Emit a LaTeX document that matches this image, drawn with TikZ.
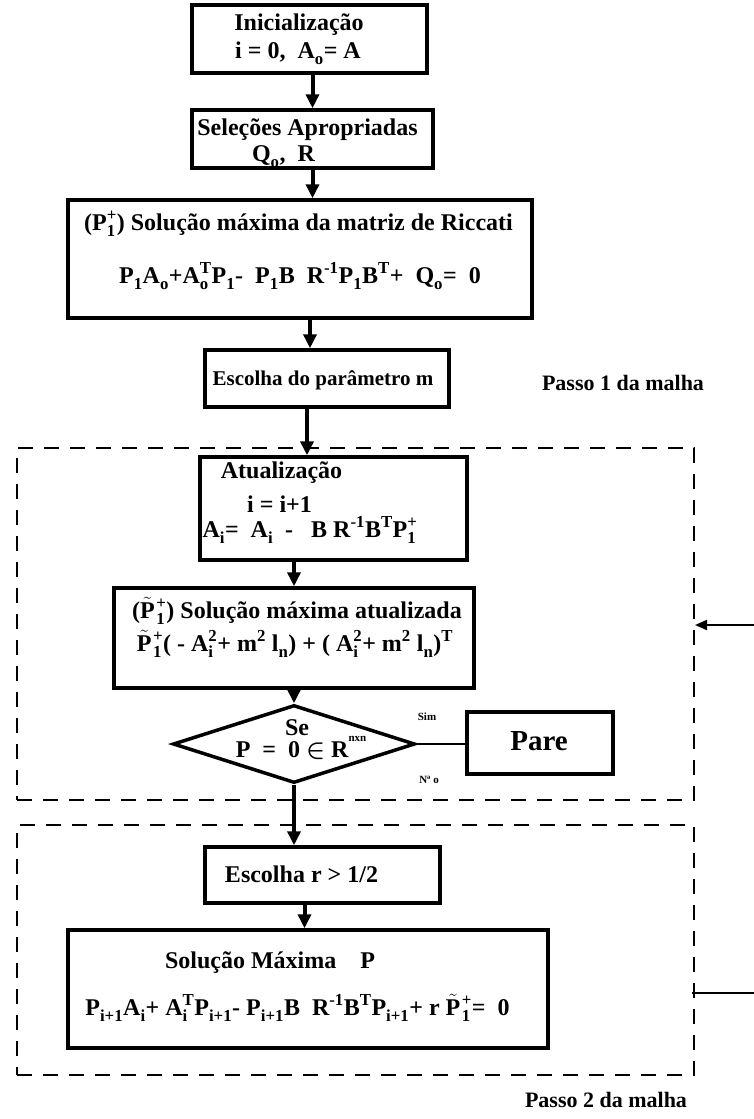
\documentclass[tikz,border=0pt]{standalone}
\usepackage{amsmath}
\usepackage{fontspec}
\setmainfont{Liberation Serif}
\usetikzlibrary{arrows.meta,shapes.geometric}

% upper and lower index in text
\newcommand\ix[2]{\ensuremath{^{\text{#1}}_{\text{#2}}}}
\newcommand\Pt{\ensuremath{\tilde{\text{P}}}\kern1.5pt}

\tikzset{
  blk/.style={draw, line width=3.5pt, inner sep=0pt},
  txt/.style={inner sep=0pt, anchor=base, font=\bfseries\fontsize{24}{28}\selectfont},
  arr/.style={line width=4pt, -{Triangle[width=13pt,length=14pt]}},
  loopbox/.style={draw, line width=2pt, dash pattern=on 15pt off 11pt, inner sep=0pt}
}

\begin{document}
\begin{tikzpicture}[x=1pt,y=-1pt]
\useasboundingbox (0,0) rectangle (754,1119);

% dashed loops
\node[loopbox, minimum width=677, minimum height=352] (lp1) at (355.5,624) {};
\node[loopbox, minimum width=677, minimum height=250] (lp2) at (355.5,950) {};

% boxes
\node[blk, minimum width=235, minimum height=68] (init) at (309.5,39) {};
\node[blk, minimum width=241, minimum height=58] (sel) at (312.5,139) {};
\node[blk, minimum width=464, minimum height=118] (ric) at (300,259) {};
\node[blk, minimum width=244, minimum height=57] (escm) at (327,378.5) {};
\node[blk, minimum width=267, minimum height=103] (upd) at (333.5,508.5) {};
\node[blk, minimum width=360, minimum height=100] (ptil) at (294,638) {};
\node[blk, shape=diamond, minimum width=242, minimum height=78] (dia) at (294,744) {};
\node[blk, minimum width=146, minimum height=62] (pare) at (540,743) {};
\node[blk, minimum width=235, minimum height=56] (escr) at (322.5,875) {};
\node[blk, minimum width=480, minimum height=118] (solm) at (308,989) {};

% texts
\node[txt] (t1) at (299,30) {Inicialização};
\node[txt] (t2) at (298,58) {i = 0,\ \ A\ix{}{o}= A};
\node[txt] (t3) at (307.5,135) {Seleções Apropriadas};
\node[txt] (t4) at (283.5,161) {Q\ix{}{o}, \ R};
\node[txt] (t5) at (298.5,230) {(P\ix{+}{1}) Solução máxima da matriz de Riccati};
\node[txt] (t6) at (300,283) {P\ix{}{1}A\ix{}{o}+A\ix{T}{o}P\ix{}{1}-\ \ P\ix{}{1}B\ \ R\ix{-1}{}P\ix{}{1}B\ix{T}{}+\ \ Q\ix{}{o}=\ \ 0};
\node[txt, font=\bfseries\fontsize{21}{25}\selectfont] (t7) at (323,385) {Escolha do parâmetro m};
\node[txt, font=\bfseries\fontsize{22}{26}\selectfont] (ps1) at (623,390) {Passo 1 da malha};
\node[txt] (t8) at (281.5,478) {Atualização};
\node[txt] (t9) at (279.5,512) {i = i+1};
\node[txt] (t10) at (310,537) {A\ix{}{i}=\ \ A\ix{}{i}\ \ -\ \ \ B R\ix{-1}{}B\ix{T}{}P\ix{+}{1}};
\node[txt] (t11) at (297,618) {(\Pt\ix{+}{1}) Solução máxima atualizada};
\node[txt] (t12) at (295,651) {\Pt\ix{+}{1}( - A\ix{2}{i}+ m\ix{2}{} l\ix{}{n}) + ( A\ix{2}{i}+ m\ix{2}{} l\ix{}{n})\ix{T}{}};
\node[txt] (t13) at (297,735) {Se};
\node[txt] (t14) at (301,757) {P\ \ =\ \ 0 \ensuremath{\boldsymbol{\in}} R\raisebox{16pt}{\fontsize{11}{12}\selectfont nxn}};
\node[txt, font=\bfseries\fontsize{11}{12}\selectfont] (sim) at (427,720) {Sim};
\node[txt, font=\bfseries\fontsize{11}{12}\selectfont] (nao) at (429,783) {Nª o};
\node[txt, font=\bfseries\fontsize{29}{33}\selectfont] (t15) at (539,750) {Pare};
\node[txt] (t16) at (301.5,882) {Escolha r > 1/2};
\node[txt] (t17) at (270,968) {Solução Máxima\ \ \ \ P};
\node[txt] (t18) at (297.5,1015) {P\ix{}{i+1}A\ix{}{i}+ A\ix{T}{i}P\ix{}{i+1}- P\ix{}{i+1}B\ \ R\ix{-1}{}B\ix{T}{}P\ix{}{i+1}+ r \Pt\ix{+}{1}=\ \ 0};
\node[txt, font=\bfseries\fontsize{22}{26}\selectfont] (ps2) at (606,1107) {Passo 2 da malha};

% flow
\draw[arr] (init.south -| sel.north) -- (sel.north);
\draw[arr] (sel.south) -- (sel.south |- ric.north);
\draw[arr] ([xshift=10pt]ric.south) -- ([xshift=10pt]ric.south |- escm.north);
\draw[arr] ([xshift=-20pt]escm.south) -- ([xshift=-20pt]escm.south |- upd.north);
\draw[arr] (ptil.north |- upd.south) -- (ptil.north);
\draw[arr] (ptil.south) -- (dia.north);
\draw[arr] (dia.south) -- (dia.south |- escr.north);
\draw[arr] ([xshift=-18pt]escr.south) -- ([xshift=-18pt]escr.south |- solm.north);
\draw[line width=1.5pt] (dia.east) -- (dia.east -| pare.west);

% feedback lines
\coordinate (fb1) at (754,625);
\coordinate (fb2) at (754,993);
\draw[line width=2pt, -{Triangle[width=10pt,length=12pt]}] (fb1) -- (fb1 -| lp1.east);
\draw[line width=2pt] (fb2) -- ([xshift=-3pt]fb2 -| lp2.east);
\end{tikzpicture}
\end{document}
